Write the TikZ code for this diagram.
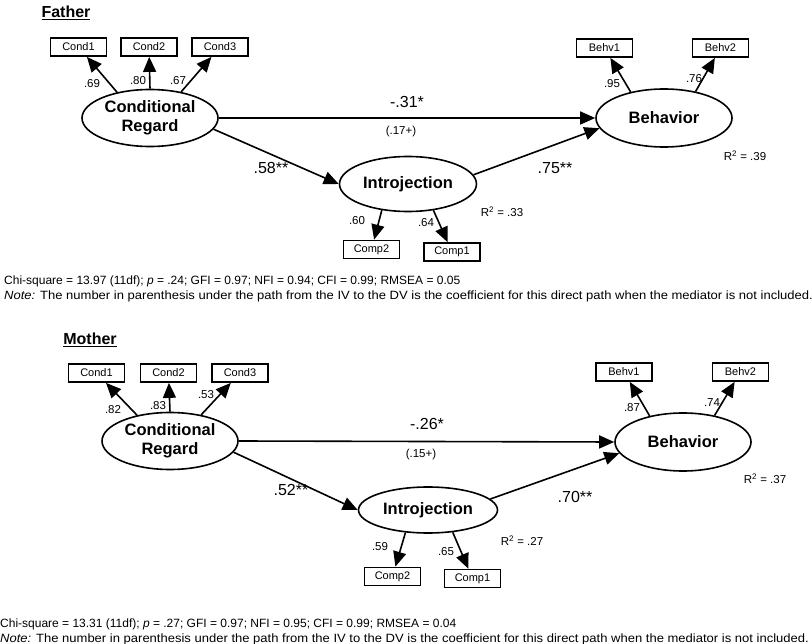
\documentclass[tikz,border=0pt]{standalone}
\usepackage{fontspec}
\setmainfont{Liberation Sans}
\usepackage{graphicx}
\usetikzlibrary{shapes.geometric,arrows.meta}
\begin{document}
\begin{tikzpicture}[x=1pt,y=-1pt,
  lat/.style={draw,ellipse,line width=1.6pt,inner sep=0pt,align=center,
    font=\fontsize{16.5}{19}\selectfont\bfseries},
  obs/.style={draw,rectangle,line width=1.8pt,inner sep=0pt,minimum width=56pt,
    minimum height=18pt,font=\fontsize{11}{12}\selectfont},
  arr/.style={line width=1.6pt,-{Triangle[length=15pt,width=13pt]}},
  lbl/.style={font=\fontsize{11.5}{12}\selectfont,inner sep=0pt},
  coef/.style={font=\fontsize{16}{18}\selectfont,inner sep=0pt},
  rsq/.style={font=\fontsize{11.5}{13}\selectfont,inner sep=0pt},
  ttl/.style={font=\fontsize{16}{18}\selectfont\bfseries,inner sep=0pt},
  stat/.style={font=\fontsize{12}{14}\selectfont,inner sep=0pt,anchor=west}]
\useasboundingbox[fill=white] (0,0) rectangle (812,644);

% ===== Father =====
\node[ttl] (tf) at (66,13) {\underline{Father}};
\node[obs] (fc1) at (78.5,47) {Cond1};
\node[obs] (fc2) at (149,47) {Cond2};
\node[obs] (fc3) at (220,47) {Cond3};
\node[obs] (fb1) at (604.5,48) {Behv1};
\node[obs] (fb2) at (720.5,48) {Behv2};
\node[obs] (fp2) at (371.5,249.5) {Comp2};
\node[obs] (fp1) at (452,252) {Comp1};
\node[lat,minimum width=136pt,minimum height=57pt] (fcr) at (150,118) {Conditional\\Regard};
\node[lat,minimum width=137pt,minimum height=55pt] (fin) at (408,184) {Introjection};
\node[lat,minimum width=136pt,minimum height=58pt] (fbe) at (664,118) {Behavior};

\draw[arr] (fcr.142) -- (fc1);
\draw[arr] (fcr.90) -- (fc2);
\draw[arr] (fcr.40) -- (fc3);
\draw[arr] (fbe.142) -- (fb1);
\draw[arr] (fbe.40) -- (fb2);
\draw[arr] (fin.225) -- (fp2);
\draw[arr] (fin.314) -- (fp1);
\draw[arr] (fcr.east) -- (fbe.west);
\draw[arr] (fcr.-10) -- (fin.west);
\draw[arr] (fin.8) -- (fbe.189);

\node[lbl] (fl1) at (92,84) {.69};
\node[lbl] (fl2) at (138,81) {.80};
\node[lbl] (fl3) at (178,81) {.67};
\node[lbl] (fl4) at (612,84) {.95};
\node[lbl] (fl5) at (694,79) {.76};
\node[lbl] (fl6) at (357,221) {.60};
\node[lbl] (fl7) at (426,223) {.64};
\node[coef] (fk1) at (407,102) {-.31*};
\node[lbl] (fk2) at (401,132) {(.17+)};
\node[coef] (fk3) at (271,168) {.58**};
\node[coef] (fk4) at (555,168) {.75**};
\node[rsq] (fr1) at (502,212) {R\textsuperscript{2} = .33};
\node[rsq] (fr2) at (745,156) {R\textsuperscript{2} = .39};

\node[stat] (fs1) at (4,281) {Chi-square = 13.97 (11df); \textit{p} = .24; GFI = 0.97; NFI = 0.94; CFI = 0.99; RMSEA = 0.05};
\node[stat] (fs2) at (4,296) {\scalebox{1.085}[1]{\textit{Note:} The number in parenthesis under the path from the IV to the DV is the coefficient for this direct path when the mediator is not included.}};

% ===== Mother =====
\node[ttl] (tm) at (90,340) {\underline{Mother}};
\node[obs] (mc1) at (96.5,373) {Cond1};
\node[obs] (mc2) at (168.5,373) {Cond2};
\node[obs] (mc3) at (240,373) {Cond3};
\node[obs] (mb1) at (624,372) {Behv1};
\node[obs] (mb2) at (740.5,372) {Behv2};
\node[obs] (mp2) at (392.5,576.5) {Comp2};
\node[obs] (mp1) at (472.5,578.5) {Comp1};
\node[lat,minimum width=136pt,minimum height=57pt] (mcr) at (170,441) {Conditional\\Regard};
\node[lat,minimum width=139pt,minimum height=46pt] (min) at (428,510) {Introjection};
\node[lat,minimum width=136pt,minimum height=58pt] (mbe) at (683,442) {Behavior};

\draw[arr] (mcr.142) -- (mc1);
\draw[arr] (mcr.90) -- (mc2);
\draw[arr] (mcr.40) -- (mc3);
\draw[arr] (mbe.142) -- (mb1);
\draw[arr] (mbe.40) -- (mb2);
\draw[arr] (min.225) -- (mp2);
\draw[arr] (min.318) -- (mp1);
\draw[arr] (mcr.east) -- (mbe.west);
\draw[arr] (mcr.-10) -- (min.west);
\draw[arr] (min.10) -- (mbe.190);

\node[lbl] (ml1) at (113,410) {.82};
\node[lbl] (ml2) at (158,406) {.83};
\node[lbl] (ml3) at (206,395) {.53};
\node[lbl] (ml4) at (632,408) {.87};
\node[lbl] (ml5) at (712,403) {.74};
\node[lbl] (ml6) at (380,547) {.59};
\node[lbl] (ml7) at (446,552) {.65};
\node[coef] (mk1) at (427,424) {-.26*};
\node[lbl] (mk2) at (421,455) {(.15+)};
\node[coef] (mk3) at (291,490) {.52**};
\node[coef] (mk4) at (575,497) {.70**};
\node[rsq] (mr1) at (522,541) {R\textsuperscript{2} = .27};
\node[rsq] (mr2) at (765,479) {R\textsuperscript{2} = .37};

\node[stat] (ms1) at (0,624) {Chi-square = 13.31 (11df); \textit{p} = .27; GFI = 0.97; NFI = 0.95; CFI = 0.99; RMSEA = 0.04};
\node[stat] (ms2) at (0,639) {\scalebox{1.085}[1]{\textit{Note:} The number in parenthesis under the path from the IV to the DV is the coefficient for this direct path when the mediator is not included.}};
\end{tikzpicture}
\end{document}
